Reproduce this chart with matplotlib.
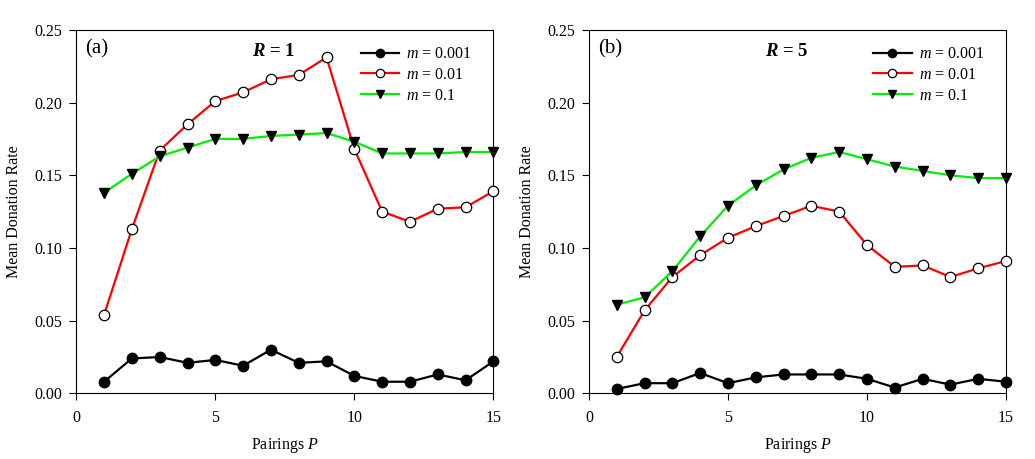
import numpy as np
import matplotlib
matplotlib.use("Agg")
import matplotlib.pyplot as plt

plt.rcParams['font.family'] = 'Liberation Serif'
plt.rcParams['mathtext.fontset'] = 'custom'
plt.rcParams['mathtext.rm'] = 'Liberation Serif'
plt.rcParams['mathtext.it'] = 'Liberation Serif:italic'
plt.rcParams['mathtext.bf'] = 'Liberation Serif:bold:italic'

# pairings
pairings = np.arange(1, 16)

# panel (a), R = 1
r1_m0001 = [0.008, 0.024, 0.025, 0.021, 0.023, 0.019, 0.030, 0.021, 0.022, 0.012, 0.008, 0.008, 0.013, 0.009, 0.022]
r1_m001 = [0.054, 0.113, 0.167, 0.185, 0.201, 0.207, 0.216, 0.219, 0.231, 0.168, 0.125, 0.118, 0.127, 0.128, 0.139]
r1_m01 = [0.138, 0.151, 0.163, 0.169, 0.175, 0.175, 0.177, 0.178, 0.179, 0.173, 0.165, 0.165, 0.165, 0.166, 0.166]

# panel (b), R = 5
r5_m0001 = [0.003, 0.007, 0.007, 0.014, 0.007, 0.011, 0.013, 0.013, 0.013, 0.010, 0.004, 0.010, 0.006, 0.010, 0.008]
r5_m001 = [0.025, 0.057, 0.080, 0.095, 0.107, 0.115, 0.122, 0.129, 0.125, 0.102, 0.087, 0.088, 0.080, 0.086, 0.091]
r5_m01 = [0.061, 0.066, 0.084, 0.108, 0.129, 0.143, 0.154, 0.162, 0.166, 0.161, 0.156, 0.153, 0.150, 0.148, 0.148]

panels = [("(a)", r"$\mathbf{R}$ = 1", r1_m0001, r1_m001, r1_m01),
          ("(b)", r"$\mathbf{R}$ = 5", r5_m0001, r5_m001, r5_m01)]

fig = plt.figure(figsize=(10.35, 4.59), dpi=100)
lefts = [0.0737, 0.569]

for left, (tag, title, y1, y2, y3) in zip(lefts, panels):
    ax = fig.add_axes([left, 0.143, 0.403, 0.792])
    ax.plot(pairings, y1, color='black', lw=1.6, marker='o', ms=7.5,
            mfc='black', mec='black', label=r'$m$ = 0.001', clip_on=False, zorder=3)
    ax.plot(pairings, y2, color='red', lw=1.6, marker='o', ms=7.5,
            mfc='white', mec='black', mew=0.9, label=r'$m$ = 0.01', clip_on=False, zorder=3)
    ax.plot(pairings, y3, color='#00ee00', lw=1.6, marker='v', ms=7.5,
            mfc='black', mec='black', label=r'$m$ = 0.1', clip_on=False, zorder=3)
    ax.set_xlim(0, 15)
    ax.set_ylim(0, 0.25)
    ax.set_xticks([0, 5, 10, 15])
    ax.set_yticks([0, 0.05, 0.10, 0.15, 0.20, 0.25])
    ax.set_yticklabels(['0.00', '0.05', '0.10', '0.15', '0.20', '0.25'])
    ax.tick_params(direction='out', length=5, labelsize=11.5, width=0.8, pad=5)
    ax.tick_params(axis='x', pad=7)
    for s in ax.spines.values():
        s.set_linewidth(0.8)
    ax.set_xlabel(r'Pairings $P$', fontsize=11.5, labelpad=7)
    ax.set_ylabel('Mean Donation Rate', fontsize=11.5, labelpad=9)
    ax.text(0.022, 0.975, tag, transform=ax.transAxes, fontsize=15, va='top', ha='left')
    ax.text(0.473, 0.965, title, transform=ax.transAxes, fontsize=13.5, fontweight='bold',
            va='top', ha='center')
    ax.legend(loc='upper right', bbox_to_anchor=(0.975, 0.986), frameon=False, fontsize=11.5,
              handlelength=2.4, markerscale=0.8, borderaxespad=0.3, labelspacing=0.3,
              handletextpad=0.45)

fig.savefig('out.png', dpi=100)
